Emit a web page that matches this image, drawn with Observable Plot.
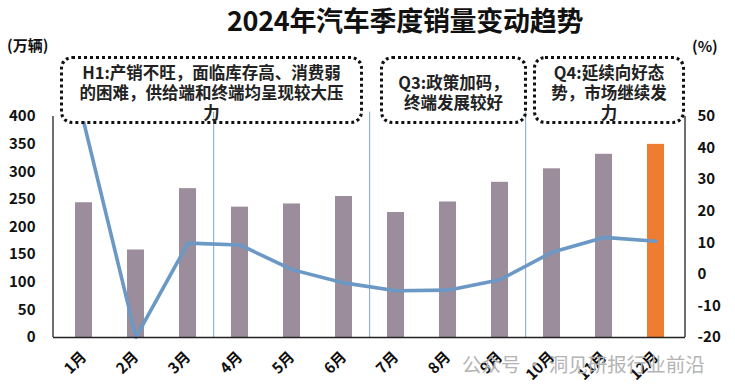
<!DOCTYPE html>
<html>
<head>
<meta charset="utf-8">
<script src="https://cdn.jsdelivr.net/npm/d3@7"></script>
<script src="https://cdn.jsdelivr.net/npm/@observablehq/plot@0.6"></script>
<style>
  html, body { margin: 0; padding: 0; background: #fff; }
  #wrap { position: relative; width: 735px; height: 390px; overflow: hidden;
    font-family: "Noto Sans CJK SC", "Noto Sans", sans-serif; }
  #chart { position: absolute; left: 0; top: 0; }
  .abs { position: absolute; }
  .title { left: 0; width: 810px; top: 0px; text-align: center; font-size: 27px; font-weight: 700; color: #111; letter-spacing: -0.3px; }
  .unit { font-size: 15px; font-weight: 700; color: #111; }
  .box { border: 3px dotted #111; border-radius: 12px; box-sizing: border-box;
    display: flex; align-items: center; justify-content: center; }
  .boxtext { text-align: center; white-space: pre-line;
    font-size: 16.5px; font-weight: 700; line-height: 20px; color: #222; padding-top: 3px; }
  .wm { font-size: 19.5px; color: #b4b4b4; left: 462px; top: 349px; letter-spacing: 0px; }
</style>
</head>
<body>
<div id="wrap">
  <div id="chart"></div>
</div>
<script>
// ---- data ----
const months = ["1月","2月","3月","4月","5月","6月","7月","8月","9月","10月","11月","12月"];
const sales = [243.9, 158.4, 269.4, 235.9, 241.7, 255.2, 226.2, 245.3, 280.9, 305.3, 331.6, 349.6]; // 万辆
const yoy = [47.9, -19.9, 9.9, 9.3, 1.5, -2.7, -5.2, -5.0, -1.7, 7.0, 11.7, 10.5]; // %
const leftTicks = [0, 50, 100, 150, 200, 250, 300, 350, 400];
const rightTicks = [-20, -10, 0, 10, 20, 30, 40, 50];
const separatorsAt = ["4月", "7月", "10月"];
const titleText = "2024年汽车季度销量变动趋势";
const leftUnit = "(万辆)";
const rightUnit = "(%)";
const notes = [
  {lines: ["H1:产销不旺，面临库存高、消费弱", "的困难，供给端和终端均呈现较大压", "力"], x0: 60, x1: 363},
  {lines: ["Q3:政策加码，", "终端发展较好"], x0: 380, x1: 527},
  {lines: ["Q4:延续向好态", "势，市场继续发", "力"], x0: 533, x1: 685}
];
const watermark = "公众号 · 洞见研报行业前沿";

const barColor = "#9b8d9c";
const highlightColor = "#ee7d31";
const lineColor = "#6b98c4";

// ---- layout ----
const W = 735, H = 390;
const mL = 53, mR = 50, mT = 116, mB = 53;
const leftMax = 400, rightMin = -20, rightMax = 50;
const toLeft = p => (p - rightMin) * leftMax / (rightMax - rightMin);
const fromLeft = v => v * (rightMax - rightMin) / leftMax + rightMin;

const data = months.map((m, i) => ({month: m, sales: sales[i], yoy: yoy[i],
  color: i === months.length - 1 ? highlightColor : barColor}));

const step = (W - mL - mR) / months.length;

const chart = Plot.plot({
  width: W, height: H,
  marginLeft: mL, marginRight: mR, marginTop: mT, marginBottom: mB,
  style: {fontFamily: "'Noto Sans CJK SC', 'Noto Sans', sans-serif", background: "transparent"},
  x: {type: "band", domain: months, paddingInner: 0.68, paddingOuter: 0.34},
  y: {domain: [0, leftMax]},
  color: {type: "identity"},
  marks: [
    Plot.ruleX(separatorsAt, {x: d => d, dx: -step / 2, y1: 0, y2: leftMax + 8, stroke: "#7fa6c6", strokeWidth: 1}),
    Plot.barY(data, {x: "month", y: "sales", fill: "color"}),
    Plot.lineY(data, {x: "month", y: d => toLeft(d.yoy), stroke: lineColor, strokeWidth: 3.6, strokeLinejoin: "round", curve: "linear"}),
    Plot.ruleY([0], {stroke: "#222", strokeWidth: 1.3}),
    Plot.axisY({anchor: "left", ticks: leftTicks, tickSize: 0, tickPadding: 18, fontSize: 15, fontWeight: 700, fill: "#111", label: null}),
    Plot.axisY({anchor: "right", ticks: rightTicks.map(toLeft), tickFormat: v => String(Math.round(fromLeft(v))), tickSize: 0, tickPadding: 12, fontSize: 15, fontWeight: 700, fill: "#111", label: null}),
    Plot.axisX({tickRotate: -45, tickSize: 0, tickPadding: 17, fontSize: 15, fontWeight: 700, fill: "#111", label: null})
  ]
});

// plot edge lines (left & right axis lines)
const svg = d3.select(chart);
[mL, W - mR].forEach(x => {
  svg.append("line").attr("x1", x).attr("x2", x)
    .attr("y1", mT).attr("y2", H - mB)
    .attr("stroke", "#222").attr("stroke-width", 1.3);
});

document.getElementById("chart").appendChild(chart);

const wrap = document.getElementById("wrap");
function addDiv(cls, text, style, parent) {
  const d = document.createElement("div");
  d.className = cls;
  if (text != null) d.textContent = text;
  Object.assign(d.style, style || {});
  (parent || wrap).appendChild(d);
  return d;
}
addDiv("abs title", titleText);
addDiv("abs unit", leftUnit, {left: "7px", top: "34px"});
addDiv("abs unit", rightUnit, {left: "692px", top: "35px"});
notes.forEach(n => {
  const b = addDiv("abs box", null, {left: n.x0 + "px", top: "56px", width: (n.x1 - n.x0) + "px", height: "68px"});
  addDiv("boxtext", n.lines.join("\n"), {}, b);
});
addDiv("abs wm", watermark);
</script>
</body>
</html>
